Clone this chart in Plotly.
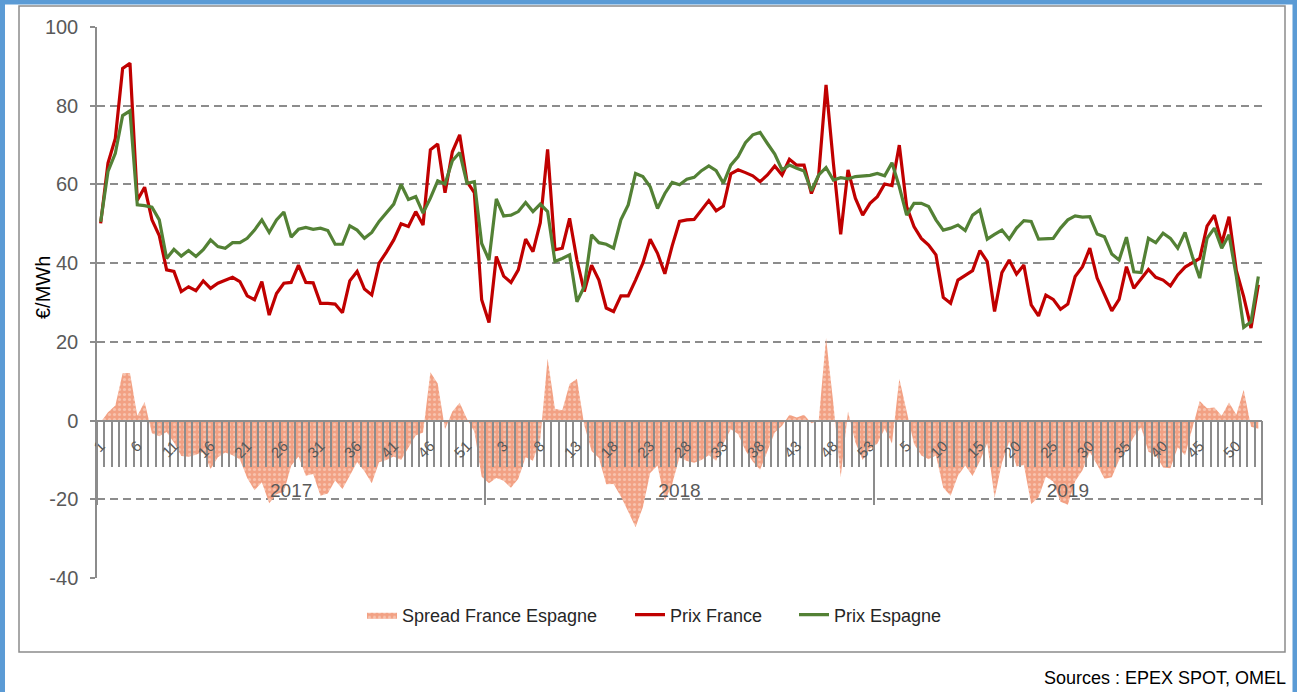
import plotly.graph_objects as go

# ---------------- data ----------------
years = ["2017", "2018", "2019"]
weeks_per_year = [53, 53, 53]

prix_france = [
    50.1, 65.4, 71.7, 89.5, 90.8, 56.0, 59.3, 51.0, 47.0, 38.3,
    37.9, 32.8, 34.0, 33.0, 35.5, 33.6, 34.9, 35.7, 36.4, 35.3,
    31.7, 30.7, 35.3, 26.8, 32.3, 34.9, 35.1, 39.5, 35.1, 35.0,
    29.8, 29.8, 29.6, 27.4, 35.5, 37.9, 33.4, 31.9, 40.0, 42.8,
    45.9, 50.0, 49.3, 53.1, 49.7, 68.8, 70.3, 57.9, 68.3, 72.6,
    60.7, 57.9, 30.7, 24.9, 41.7, 36.7, 35.1, 38.3, 46.1, 42.9,
    50.3, 68.9, 43.4, 43.8, 51.4, 40.8, 32.8, 39.5, 35.7, 28.6,
    27.7, 31.7, 31.7, 35.7, 40.0, 46.1, 42.5, 37.3, 44.4, 50.6,
    51.0, 51.1, 53.5, 55.9, 53.3, 54.5, 62.7, 63.7, 63.0, 62.2,
    60.7, 62.4, 64.7, 62.4, 66.4, 64.9, 64.9, 57.7, 62.4, 85.3,
    65.4, 47.3, 63.7, 56.5, 52.2, 55.2, 56.9, 60.1, 59.7, 70.0,
    54.4, 49.3, 46.3, 44.6, 42.1, 31.3, 29.8, 35.7, 36.9, 38.1,
    43.2, 40.4, 27.7, 37.6, 40.8, 37.2, 39.5, 29.4, 26.6, 31.9,
    30.8, 28.3, 29.6, 36.6, 39.1, 43.8, 36.2, 31.9, 27.9, 30.8,
    39.1, 33.6, 35.9, 38.4, 36.4, 35.7, 34.2, 37.0, 39.0, 40.0,
    41.2, 49.4, 52.2, 45.0, 51.8, 38.1, 31.5, 23.5, 34.5,
]

prix_espagne = [
    50.5, 63.3, 67.9, 77.5, 78.7, 54.8, 54.6, 54.2, 51.0, 41.2,
    43.5, 41.8, 43.2, 41.7, 43.4, 45.9, 44.2, 43.8, 45.2, 45.2,
    46.3, 48.4, 51.0, 47.8, 51.0, 53.0, 46.6, 48.6, 49.1, 48.6,
    48.9, 48.3, 44.8, 44.8, 49.5, 48.4, 46.3, 47.8, 50.6, 52.8,
    55.0, 60.0, 56.2, 56.9, 52.7, 56.5, 60.9, 60.1, 66.0, 68.1,
    60.3, 60.7, 45.0, 40.8, 56.3, 52.0, 52.2, 53.1, 55.4, 53.1,
    55.0, 53.1, 40.4, 41.2, 42.1, 30.2, 34.0, 47.2, 45.2, 44.8,
    43.8, 51.0, 54.8, 62.8, 62.0, 59.4, 53.9, 57.7, 60.5, 59.9,
    61.3, 61.8, 63.5, 64.7, 63.5, 60.3, 64.9, 67.1, 70.6, 72.6,
    73.2, 70.4, 67.7, 63.7, 64.9, 64.1, 63.4, 58.4, 62.4, 64.3,
    61.1, 61.7, 61.4, 62.0, 62.2, 62.3, 62.8, 62.2, 65.5, 59.4,
    52.2, 55.2, 55.2, 54.4, 51.0, 48.4, 48.9, 49.7, 48.3, 52.2,
    53.5, 46.1, 47.3, 48.4, 46.1, 48.9, 50.8, 50.6, 46.1, 46.2,
    46.3, 48.9, 51.0, 52.0, 51.7, 51.8, 47.4, 46.7, 42.3, 40.8,
    46.6, 37.8, 37.6, 46.3, 45.2, 47.6, 46.3, 43.8, 47.8, 41.7,
    36.2, 46.3, 48.9, 43.8, 47.2, 36.6, 23.7, 25.1, 36.6,
]

spread_france_espagne = [
    -0.4, 2.1, 3.8, 12.0, 12.1, 1.2, 4.7, -3.2, -4.0, -2.9,
    -5.6, -9.0, -9.2, -8.7, -7.9, -12.3, -9.3, -8.1, -8.8, -9.9,
    -14.6, -17.7, -15.7, -21.0, -18.7, -18.1, -11.5, -9.1, -14.0, -13.6,
    -19.1, -18.5, -15.2, -17.4, -14.0, -10.5, -12.9, -15.9, -10.6, -10.0,
    -9.1, -10.0, -6.9, -3.8, -3.0, 12.3, 9.4, -2.2, 2.3, 4.5,
    0.4, -2.8, -14.3, -15.9, -14.6, -15.3, -17.1, -14.8, -9.3, -10.2,
    -4.7, 15.8, 3.0, 2.6, 9.3, 10.6, -1.2, -7.7, -9.5, -16.2,
    -16.1, -19.3, -23.1, -27.1, -22.0, -13.3, -11.4, -20.4, -16.1, -9.3,
    -10.3, -10.7, -10.0, -8.8, -10.2, -5.8, -2.2, -3.4, -7.6, -10.4,
    -12.5, -8.0, -3.0, -1.3, 1.5, 0.8, 1.5, -0.7, 0.0, 21.0,
    4.3, -14.4, 2.3, -5.5, -10.0, -7.1, -5.9, -2.1, -5.8, 10.6,
    2.2, -5.9, -8.9, -9.8, -8.9, -17.1, -19.1, -14.0, -11.4, -14.1,
    -10.3, -5.7, -19.6, -10.8, -5.3, -11.7, -11.3, -21.2, -19.5, -14.3,
    -15.5, -20.6, -21.4, -15.4, -12.6, -8.0, -11.2, -14.8, -14.4, -10.0,
    -7.5, -4.2, -1.7, -7.9, -8.8, -11.9, -12.1, -6.8, -8.8, -1.7,
    5.0, 3.1, 3.3, 1.2, 4.6, 1.5, 7.8, -1.6, -2.1,
]

y_range = [-40, 100]
y_tickvals = [-40, -20, 0, 20, 40, 60, 80, 100]
y_ticktext = ["-40", "-20", "0", "20", "40", "60", "80", "100"]
label_every = 5

# ---------------- categories ----------------
week_numbers = [w for n in weeks_per_year for w in range(1, n + 1)]
x_idx = list(range(len(week_numbers)))
week_tickvals = x_idx[::label_every]
week_ticktext = [str(week_numbers[i]) for i in week_tickvals]
cat_boundaries = [i - 0.5 for i in range(len(x_idx) + 1)]

year_bounds = [-0.5]
year_centers = []
start = 0
for n in weeks_per_year:
    year_centers.append(start + (n - 1) / 2)
    start += n
    year_bounds.append(start - 0.5)

# ---------------- layout geometry ----------------
W, H = 1297, 692
ML, MR, MT, MB = 97, 35, 27, 114
PW, PH = W - ML - MR, H - MT - MB


def pxx(px):
    return (px - ML) / PW


def pxy(py):
    return (H - MB - py) / PH


axis_pos = (0 - y_range[0]) / (y_range[1] - y_range[0])

GRAY = "#8c8c8c"
TXT = "#595959"
FONT = "Liberation Sans, Arial, sans-serif"

fig = go.Figure()

fig.add_trace(go.Scatter(
    x=x_idx, y=spread_france_espagne, name="Spread France Espagne",
    mode="lines", line=dict(width=0, color="#F2A184"),
    fill="tozeroy", fillcolor="#F2A184",
    fillpattern=dict(shape=".", bgcolor="#F2A184", fgcolor="#FCE3D8",
                     size=5, solidity=0.3),
    legend="legend",
))
fig.add_trace(go.Scatter(
    x=x_idx, y=prix_france, name="Prix France", mode="lines",
    line=dict(color="#C00000", width=3.2), legend="legend2",
))
fig.add_trace(go.Scatter(
    x=x_idx, y=prix_espagne, name="Prix Espagne", mode="lines",
    line=dict(color="#538135", width=3.2), legend="legend3",
))

legend_common = dict(orientation="h", xanchor="left", yanchor="middle",
                     y=pxy(615), font=dict(size=18, color="#262626", family=FONT),
                     bgcolor="rgba(0,0,0,0)", borderwidth=0)

fig.update_layout(
    width=W, height=H,
    margin=dict(l=ML, r=MR, t=MT, b=MB, pad=0),
    paper_bgcolor="white", plot_bgcolor="white",
    font=dict(family=FONT, color=TXT),
    showlegend=True,
    legend=dict(x=pxx(362), **legend_common),
    legend2=dict(x=pxx(630), **legend_common),
    legend3=dict(x=pxx(794), **legend_common),
    xaxis=dict(
        range=[year_bounds[0], year_bounds[-1]],
        anchor="free", position=axis_pos,
        showline=True, linecolor=GRAY, linewidth=1.5,
        showgrid=False, zeroline=False,
        tickmode="array", tickvals=week_tickvals, ticktext=week_ticktext,
        tickangle=-45, ticks="",
        tickfont=dict(size=15, color=TXT),
        minor=dict(tickmode="array", tickvals=cat_boundaries,
                   ticks="outside", ticklen=46, tickcolor=GRAY, tickwidth=1.5),
        ticklabelstandoff=10,
    ),
    xaxis2=dict(
        range=[year_bounds[0], year_bounds[-1]],
        overlaying="x", anchor="free", position=axis_pos,
        showline=False, showgrid=False, zeroline=False,
        tickmode="array", tickvals=year_centers, ticktext=years,
        ticks="",
        tickfont=dict(size=19, color=TXT),
        minor=dict(tickmode="array", tickvals=year_bounds,
                   ticks="outside", ticklen=83, tickcolor=GRAY, tickwidth=1.5),
        ticklabelstandoff=56,
    ),
    yaxis=dict(
        range=y_range, tickmode="array", tickvals=y_tickvals, ticktext=y_ticktext,
        showline=True, linecolor=GRAY, linewidth=1.5,
        ticks="outside", ticklen=5, tickcolor=GRAY, tickwidth=1.5,
        showgrid=True, gridcolor=GRAY, gridwidth=1.5, griddash="8px,5px",
        zeroline=False,
        tickfont=dict(size=20, color=TXT),
        ticklabelstandoff=8,
    ),
    annotations=[
        dict(text="€/MWh", xref="paper", yref="paper", x=pxx(43), y=pxy(288),
             textangle=-90, showarrow=False, xanchor="center", yanchor="middle",
             font=dict(size=20, color="#000000", family=FONT)),
        dict(text="Sources : EPEX SPOT, OMEL", xref="paper", yref="paper",
             x=pxx(1288), y=pxy(678), xanchor="right", yanchor="middle",
             showarrow=False, font=dict(size=18, color="#000000", family=FONT)),
    ],
    shapes=[
        dict(type="rect", xref="paper", yref="paper",
             x0=pxx(19), x1=pxx(1285), y0=pxy(652), y1=pxy(6),
             line=dict(color="#8c8c8c", width=1.5), fillcolor="rgba(0,0,0,0)",
             layer="below"),
        dict(type="rect", xref="paper", yref="paper",
             x0=pxx(2.5), x1=pxx(1295), y0=pxy(720), y1=pxy(2),
             line=dict(color="#5B9BD5", width=5), fillcolor="rgba(0,0,0,0)",
             layer="above"),
    ],
)

# invisible helper so the year axis is rendered
fig.add_trace(go.Scatter(x=[year_centers[0]], y=[None], xaxis="x2",
                         showlegend=False, hoverinfo="skip"))

fig.write_html(
    "out.html",
    config={"displayModeBar": False},
    post_script="document.body.style.margin='0px';"
                "document.body.style.padding='0px';"
                "document.documentElement.style.overflow='hidden';",
)
